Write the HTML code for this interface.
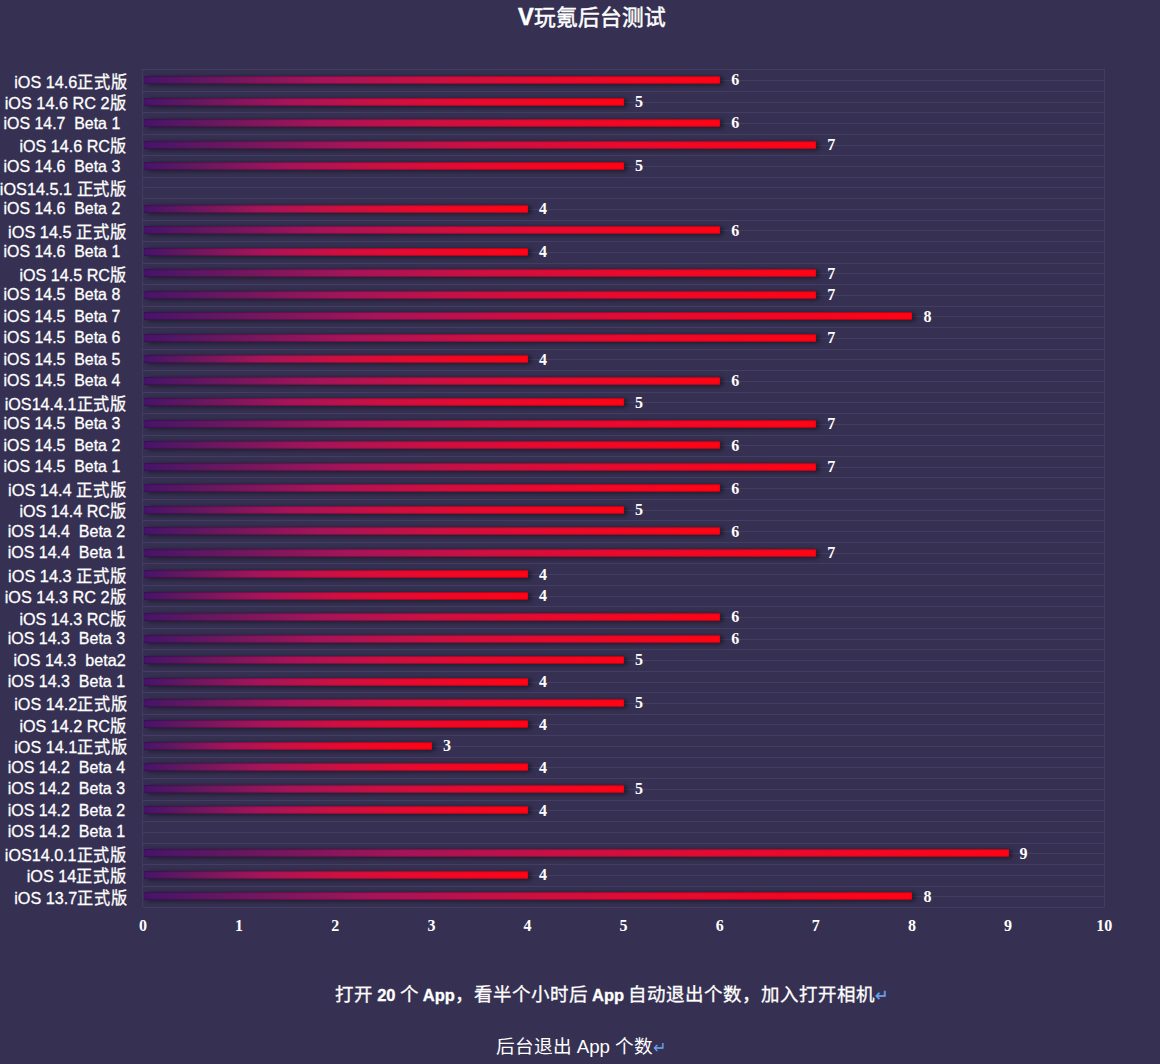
<!DOCTYPE html>
<html lang="zh-CN"><head><meta charset="utf-8"><style>
*{margin:0;padding:0;box-sizing:border-box}
html,body{width:1160px;height:1064px;overflow:hidden;background:#363152}
body{position:relative;font-family:"Liberation Sans",sans-serif;color:#fff}
.t{position:absolute;white-space:pre;line-height:1}
.g{position:absolute;left:142.5px;width:961.8px;height:1px;background:#433d61}
.lab{position:absolute;-webkit-text-stroke-width:0.3px;right:1034px;white-space:pre;font-size:16.5px;line-height:20px;height:20px}
.bar{position:absolute;left:143.0px;height:8px;box-shadow:3px 1px 5px rgba(0,0,0,.5),inset 0 1px 1px rgba(40,10,40,.35),inset 0 -1px 1px rgba(40,10,40,.35)}
.val{position:absolute;font-family:"Liberation Serif",serif;font-weight:bold;font-size:16px;line-height:20px;height:20px}
.ax{position:absolute;font-family:"Liberation Serif",serif;font-size:16px;font-weight:bold;line-height:20px;width:30px;text-align:center;top:916px}
</style></head><body>
<div class="t" id="ti" style="left:518px;top:4.5px;font-size:21.7px;font-weight:500;line-height:24px;-webkit-text-stroke-width:0.5px"><span style="font-size:23.5px;font-weight:bold">V</span>玩氪后台测试</div>

<div class="g" style="top:69.3px"></div>
<div class="g" style="top:80.0px"></div>
<div class="g" style="top:90.8px"></div>
<div class="g" style="top:101.5px"></div>
<div class="g" style="top:112.3px"></div>
<div class="g" style="top:123.0px"></div>
<div class="g" style="top:133.7px"></div>
<div class="g" style="top:144.5px"></div>
<div class="g" style="top:155.2px"></div>
<div class="g" style="top:166.0px"></div>
<div class="g" style="top:176.7px"></div>
<div class="g" style="top:187.4px"></div>
<div class="g" style="top:198.2px"></div>
<div class="g" style="top:208.9px"></div>
<div class="g" style="top:219.7px"></div>
<div class="g" style="top:230.4px"></div>
<div class="g" style="top:241.1px"></div>
<div class="g" style="top:251.9px"></div>
<div class="g" style="top:262.6px"></div>
<div class="g" style="top:273.4px"></div>
<div class="g" style="top:284.1px"></div>
<div class="g" style="top:294.8px"></div>
<div class="g" style="top:305.6px"></div>
<div class="g" style="top:316.3px"></div>
<div class="g" style="top:327.1px"></div>
<div class="g" style="top:337.8px"></div>
<div class="g" style="top:348.5px"></div>
<div class="g" style="top:359.3px"></div>
<div class="g" style="top:370.0px"></div>
<div class="g" style="top:380.8px"></div>
<div class="g" style="top:391.5px"></div>
<div class="g" style="top:402.2px"></div>
<div class="g" style="top:413.0px"></div>
<div class="g" style="top:423.7px"></div>
<div class="g" style="top:434.5px"></div>
<div class="g" style="top:445.2px"></div>
<div class="g" style="top:455.9px"></div>
<div class="g" style="top:466.7px"></div>
<div class="g" style="top:477.4px"></div>
<div class="g" style="top:488.2px"></div>
<div class="g" style="top:498.9px"></div>
<div class="g" style="top:509.6px"></div>
<div class="g" style="top:520.4px"></div>
<div class="g" style="top:531.1px"></div>
<div class="g" style="top:541.8px"></div>
<div class="g" style="top:552.6px"></div>
<div class="g" style="top:563.3px"></div>
<div class="g" style="top:574.1px"></div>
<div class="g" style="top:584.8px"></div>
<div class="g" style="top:595.5px"></div>
<div class="g" style="top:606.3px"></div>
<div class="g" style="top:617.0px"></div>
<div class="g" style="top:627.8px"></div>
<div class="g" style="top:638.5px"></div>
<div class="g" style="top:649.2px"></div>
<div class="g" style="top:660.0px"></div>
<div class="g" style="top:670.7px"></div>
<div class="g" style="top:681.5px"></div>
<div class="g" style="top:692.2px"></div>
<div class="g" style="top:702.9px"></div>
<div class="g" style="top:713.7px"></div>
<div class="g" style="top:724.4px"></div>
<div class="g" style="top:735.2px"></div>
<div class="g" style="top:745.9px"></div>
<div class="g" style="top:756.6px"></div>
<div class="g" style="top:767.4px"></div>
<div class="g" style="top:778.1px"></div>
<div class="g" style="top:788.9px"></div>
<div class="g" style="top:799.6px"></div>
<div class="g" style="top:810.3px"></div>
<div class="g" style="top:821.1px"></div>
<div class="g" style="top:831.8px"></div>
<div class="g" style="top:842.6px"></div>
<div class="g" style="top:853.3px"></div>
<div class="g" style="top:864.0px"></div>
<div class="g" style="top:874.8px"></div>
<div class="g" style="top:885.5px"></div>
<div class="g" style="top:896.3px"></div>
<div class="g" style="top:907.0px"></div>
<div style="position:absolute;left:142.0px;top:69.3px;width:1px;height:837.7px;background:#433d61"></div>
<div style="position:absolute;left:1103.8px;top:69.3px;width:1px;height:837.7px;background:#433d61"></div>
<div class="lab" style="top:71.5px;right:1033.22px;transform:scaleX(0.9807);transform-origin:100% 50%">iOS 14.6正式版</div>
<div class="bar" style="left:144.0px;top:76.0px;width:576.2px;background:linear-gradient(90deg,#46146a 0%,#621860 10%,#a5145a 30%,#cc1042 50%,#e80a2e 70%,#ff0414 100%)"></div>
<div class="val" style="top:70.4px;left:731.2px">6</div>
<div class="lab" style="top:93.0px;right:1033.21px;transform:scaleX(0.9861);transform-origin:100% 50%">iOS 14.6 RC 2版</div>
<div class="bar" style="left:144.0px;top:97.5px;width:480.1px;background:linear-gradient(90deg,#46146a 0%,#621860 10%,#a5145a 30%,#cc1042 50%,#e80a2e 70%,#ff0414 100%)"></div>
<div class="val" style="top:91.9px;left:635.1px">5</div>
<div class="lab" style="top:112.5px;right:1034.88px;transform:scaleX(0.9642);transform-origin:100% 50%">iOS 14.7  Beta 1 </div>
<div class="bar" style="left:144.0px;top:119.0px;width:576.2px;background:linear-gradient(90deg,#46146a 0%,#621860 10%,#a5145a 30%,#cc1042 50%,#e80a2e 70%,#ff0414 100%)"></div>
<div class="val" style="top:113.4px;left:731.2px">6</div>
<div class="lab" style="top:136.0px;right:1033.22px;transform:scaleX(0.9778);transform-origin:100% 50%">iOS 14.6 RC版</div>
<div class="bar" style="left:144.0px;top:140.5px;width:672.3px;background:linear-gradient(90deg,#46146a 0%,#621860 10%,#a5145a 30%,#cc1042 50%,#e80a2e 70%,#ff0414 100%)"></div>
<div class="val" style="top:134.9px;left:827.3px">7</div>
<div class="lab" style="top:155.5px;right:1034.88px;transform:scaleX(0.9642);transform-origin:100% 50%">iOS 14.6  Beta 3 </div>
<div class="bar" style="left:144.0px;top:162.0px;width:480.1px;background:linear-gradient(90deg,#46146a 0%,#621860 10%,#a5145a 30%,#cc1042 50%,#e80a2e 70%,#ff0414 100%)"></div>
<div class="val" style="top:156.4px;left:635.1px">5</div>
<div class="lab" style="top:178.9px;right:1033.21px;transform:scaleX(0.9858);transform-origin:100% 50%">iOS14.5.1 正式版</div>
<div class="lab" style="top:198.4px;right:1034.88px;transform:scaleX(0.9642);transform-origin:100% 50%">iOS 14.6  Beta 2 </div>
<div class="bar" style="left:144.0px;top:204.9px;width:384.0px;background:linear-gradient(90deg,#46146a 0%,#621860 10%,#a5145a 30%,#cc1042 50%,#e80a2e 70%,#ff0414 100%)"></div>
<div class="val" style="top:199.3px;left:539.0px">4</div>
<div class="lab" style="top:221.9px;right:1033.21px;transform:scaleX(0.9915);transform-origin:100% 50%">iOS 14.5 正式版</div>
<div class="bar" style="left:144.0px;top:226.4px;width:576.2px;background:linear-gradient(90deg,#46146a 0%,#621860 10%,#a5145a 30%,#cc1042 50%,#e80a2e 70%,#ff0414 100%)"></div>
<div class="val" style="top:220.8px;left:731.2px">6</div>
<div class="lab" style="top:241.4px;right:1034.88px;transform:scaleX(0.9642);transform-origin:100% 50%">iOS 14.6  Beta 1 </div>
<div class="bar" style="left:144.0px;top:247.9px;width:384.0px;background:linear-gradient(90deg,#46146a 0%,#621860 10%,#a5145a 30%,#cc1042 50%,#e80a2e 70%,#ff0414 100%)"></div>
<div class="val" style="top:242.3px;left:539.0px">4</div>
<div class="lab" style="top:264.9px;right:1033.22px;transform:scaleX(0.9778);transform-origin:100% 50%">iOS 14.5 RC版</div>
<div class="bar" style="left:144.0px;top:269.4px;width:672.3px;background:linear-gradient(90deg,#46146a 0%,#621860 10%,#a5145a 30%,#cc1042 50%,#e80a2e 70%,#ff0414 100%)"></div>
<div class="val" style="top:263.8px;left:827.3px">7</div>
<div class="lab" style="top:284.3px;right:1034.88px;transform:scaleX(0.9642);transform-origin:100% 50%">iOS 14.5  Beta 8 </div>
<div class="bar" style="left:144.0px;top:290.8px;width:672.3px;background:linear-gradient(90deg,#46146a 0%,#621860 10%,#a5145a 30%,#cc1042 50%,#e80a2e 70%,#ff0414 100%)"></div>
<div class="val" style="top:285.2px;left:827.3px">7</div>
<div class="lab" style="top:305.8px;right:1034.88px;transform:scaleX(0.9642);transform-origin:100% 50%">iOS 14.5  Beta 7 </div>
<div class="bar" style="left:144.0px;top:312.3px;width:768.4px;background:linear-gradient(90deg,#46146a 0%,#621860 10%,#a5145a 30%,#cc1042 50%,#e80a2e 70%,#ff0414 100%)"></div>
<div class="val" style="top:306.7px;left:923.4px">8</div>
<div class="lab" style="top:327.3px;right:1034.88px;transform:scaleX(0.9642);transform-origin:100% 50%">iOS 14.5  Beta 6 </div>
<div class="bar" style="left:144.0px;top:333.8px;width:672.3px;background:linear-gradient(90deg,#46146a 0%,#621860 10%,#a5145a 30%,#cc1042 50%,#e80a2e 70%,#ff0414 100%)"></div>
<div class="val" style="top:328.2px;left:827.3px">7</div>
<div class="lab" style="top:348.8px;right:1034.88px;transform:scaleX(0.9642);transform-origin:100% 50%">iOS 14.5  Beta 5 </div>
<div class="bar" style="left:144.0px;top:355.3px;width:384.0px;background:linear-gradient(90deg,#46146a 0%,#621860 10%,#a5145a 30%,#cc1042 50%,#e80a2e 70%,#ff0414 100%)"></div>
<div class="val" style="top:349.7px;left:539.0px">4</div>
<div class="lab" style="top:370.3px;right:1034.88px;transform:scaleX(0.9642);transform-origin:100% 50%">iOS 14.5  Beta 4 </div>
<div class="bar" style="left:144.0px;top:376.8px;width:576.2px;background:linear-gradient(90deg,#46146a 0%,#621860 10%,#a5145a 30%,#cc1042 50%,#e80a2e 70%,#ff0414 100%)"></div>
<div class="val" style="top:371.2px;left:731.2px">6</div>
<div class="lab" style="top:393.7px;right:1033.22px;transform:scaleX(0.9780);transform-origin:100% 50%">iOS14.4.1正式版</div>
<div class="bar" style="left:144.0px;top:398.2px;width:480.1px;background:linear-gradient(90deg,#46146a 0%,#621860 10%,#a5145a 30%,#cc1042 50%,#e80a2e 70%,#ff0414 100%)"></div>
<div class="val" style="top:392.6px;left:635.1px">5</div>
<div class="lab" style="top:413.2px;right:1034.88px;transform:scaleX(0.9642);transform-origin:100% 50%">iOS 14.5  Beta 3 </div>
<div class="bar" style="left:144.0px;top:419.7px;width:672.3px;background:linear-gradient(90deg,#46146a 0%,#621860 10%,#a5145a 30%,#cc1042 50%,#e80a2e 70%,#ff0414 100%)"></div>
<div class="val" style="top:414.1px;left:827.3px">7</div>
<div class="lab" style="top:434.7px;right:1034.88px;transform:scaleX(0.9642);transform-origin:100% 50%">iOS 14.5  Beta 2 </div>
<div class="bar" style="left:144.0px;top:441.2px;width:576.2px;background:linear-gradient(90deg,#46146a 0%,#621860 10%,#a5145a 30%,#cc1042 50%,#e80a2e 70%,#ff0414 100%)"></div>
<div class="val" style="top:435.6px;left:731.2px">6</div>
<div class="lab" style="top:456.2px;right:1034.88px;transform:scaleX(0.9642);transform-origin:100% 50%">iOS 14.5  Beta 1 </div>
<div class="bar" style="left:144.0px;top:462.7px;width:672.3px;background:linear-gradient(90deg,#46146a 0%,#621860 10%,#a5145a 30%,#cc1042 50%,#e80a2e 70%,#ff0414 100%)"></div>
<div class="val" style="top:457.1px;left:827.3px">7</div>
<div class="lab" style="top:479.7px;right:1033.21px;transform:scaleX(0.9915);transform-origin:100% 50%">iOS 14.4 正式版</div>
<div class="bar" style="left:144.0px;top:484.2px;width:576.2px;background:linear-gradient(90deg,#46146a 0%,#621860 10%,#a5145a 30%,#cc1042 50%,#e80a2e 70%,#ff0414 100%)"></div>
<div class="val" style="top:478.6px;left:731.2px">6</div>
<div class="lab" style="top:501.1px;right:1033.22px;transform:scaleX(0.9778);transform-origin:100% 50%">iOS 14.4 RC版</div>
<div class="bar" style="left:144.0px;top:505.6px;width:480.1px;background:linear-gradient(90deg,#46146a 0%,#621860 10%,#a5145a 30%,#cc1042 50%,#e80a2e 70%,#ff0414 100%)"></div>
<div class="val" style="top:500.0px;left:635.1px">5</div>
<div class="lab" style="top:520.6px;right:1034.80px;transform:scaleX(0.9700);transform-origin:100% 50%">iOS 14.4  Beta 2</div>
<div class="bar" style="left:144.0px;top:527.1px;width:576.2px;background:linear-gradient(90deg,#46146a 0%,#621860 10%,#a5145a 30%,#cc1042 50%,#e80a2e 70%,#ff0414 100%)"></div>
<div class="val" style="top:521.5px;left:731.2px">6</div>
<div class="lab" style="top:542.1px;right:1034.80px;transform:scaleX(0.9700);transform-origin:100% 50%">iOS 14.4  Beta 1</div>
<div class="bar" style="left:144.0px;top:548.6px;width:672.3px;background:linear-gradient(90deg,#46146a 0%,#621860 10%,#a5145a 30%,#cc1042 50%,#e80a2e 70%,#ff0414 100%)"></div>
<div class="val" style="top:543.0px;left:827.3px">7</div>
<div class="lab" style="top:565.6px;right:1033.21px;transform:scaleX(0.9915);transform-origin:100% 50%">iOS 14.3 正式版</div>
<div class="bar" style="left:144.0px;top:570.1px;width:384.0px;background:linear-gradient(90deg,#46146a 0%,#621860 10%,#a5145a 30%,#cc1042 50%,#e80a2e 70%,#ff0414 100%)"></div>
<div class="val" style="top:564.5px;left:539.0px">4</div>
<div class="lab" style="top:587.0px;right:1033.21px;transform:scaleX(0.9861);transform-origin:100% 50%">iOS 14.3 RC 2版</div>
<div class="bar" style="left:144.0px;top:591.5px;width:384.0px;background:linear-gradient(90deg,#46146a 0%,#621860 10%,#a5145a 30%,#cc1042 50%,#e80a2e 70%,#ff0414 100%)"></div>
<div class="val" style="top:585.9px;left:539.0px">4</div>
<div class="lab" style="top:608.5px;right:1033.22px;transform:scaleX(0.9778);transform-origin:100% 50%">iOS 14.3 RC版</div>
<div class="bar" style="left:144.0px;top:613.0px;width:576.2px;background:linear-gradient(90deg,#46146a 0%,#621860 10%,#a5145a 30%,#cc1042 50%,#e80a2e 70%,#ff0414 100%)"></div>
<div class="val" style="top:607.4px;left:731.2px">6</div>
<div class="lab" style="top:628.0px;right:1034.80px;transform:scaleX(0.9700);transform-origin:100% 50%">iOS 14.3  Beta 3</div>
<div class="bar" style="left:144.0px;top:634.5px;width:576.2px;background:linear-gradient(90deg,#46146a 0%,#621860 10%,#a5145a 30%,#cc1042 50%,#e80a2e 70%,#ff0414 100%)"></div>
<div class="val" style="top:628.9px;left:731.2px">6</div>
<div class="lab" style="top:649.5px;right:1034.80px;transform:scaleX(0.9781);transform-origin:100% 50%">iOS 14.3  beta2</div>
<div class="bar" style="left:144.0px;top:656.0px;width:480.1px;background:linear-gradient(90deg,#46146a 0%,#621860 10%,#a5145a 30%,#cc1042 50%,#e80a2e 70%,#ff0414 100%)"></div>
<div class="val" style="top:650.4px;left:635.1px">5</div>
<div class="lab" style="top:671.0px;right:1034.80px;transform:scaleX(0.9700);transform-origin:100% 50%">iOS 14.3  Beta 1</div>
<div class="bar" style="left:144.0px;top:677.5px;width:384.0px;background:linear-gradient(90deg,#46146a 0%,#621860 10%,#a5145a 30%,#cc1042 50%,#e80a2e 70%,#ff0414 100%)"></div>
<div class="val" style="top:671.9px;left:539.0px">4</div>
<div class="lab" style="top:694.4px;right:1033.22px;transform:scaleX(0.9807);transform-origin:100% 50%">iOS 14.2正式版</div>
<div class="bar" style="left:144.0px;top:698.9px;width:480.1px;background:linear-gradient(90deg,#46146a 0%,#621860 10%,#a5145a 30%,#cc1042 50%,#e80a2e 70%,#ff0414 100%)"></div>
<div class="val" style="top:693.3px;left:635.1px">5</div>
<div class="lab" style="top:715.9px;right:1033.22px;transform:scaleX(0.9778);transform-origin:100% 50%">iOS 14.2 RC版</div>
<div class="bar" style="left:144.0px;top:720.4px;width:384.0px;background:linear-gradient(90deg,#46146a 0%,#621860 10%,#a5145a 30%,#cc1042 50%,#e80a2e 70%,#ff0414 100%)"></div>
<div class="val" style="top:714.8px;left:539.0px">4</div>
<div class="lab" style="top:737.4px;right:1033.22px;transform:scaleX(0.9807);transform-origin:100% 50%">iOS 14.1正式版</div>
<div class="bar" style="left:144.0px;top:741.9px;width:287.9px;background:linear-gradient(90deg,#46146a 0%,#621860 10%,#a5145a 30%,#cc1042 50%,#e80a2e 70%,#ff0414 100%)"></div>
<div class="val" style="top:736.3px;left:442.9px">3</div>
<div class="lab" style="top:756.9px;right:1034.80px;transform:scaleX(0.9700);transform-origin:100% 50%">iOS 14.2  Beta 4</div>
<div class="bar" style="left:144.0px;top:763.4px;width:384.0px;background:linear-gradient(90deg,#46146a 0%,#621860 10%,#a5145a 30%,#cc1042 50%,#e80a2e 70%,#ff0414 100%)"></div>
<div class="val" style="top:757.8px;left:539.0px">4</div>
<div class="lab" style="top:778.4px;right:1034.80px;transform:scaleX(0.9700);transform-origin:100% 50%">iOS 14.2  Beta 3</div>
<div class="bar" style="left:144.0px;top:784.9px;width:480.1px;background:linear-gradient(90deg,#46146a 0%,#621860 10%,#a5145a 30%,#cc1042 50%,#e80a2e 70%,#ff0414 100%)"></div>
<div class="val" style="top:779.3px;left:635.1px">5</div>
<div class="lab" style="top:799.8px;right:1034.80px;transform:scaleX(0.9700);transform-origin:100% 50%">iOS 14.2  Beta 2</div>
<div class="bar" style="left:144.0px;top:806.3px;width:384.0px;background:linear-gradient(90deg,#46146a 0%,#621860 10%,#a5145a 30%,#cc1042 50%,#e80a2e 70%,#ff0414 100%)"></div>
<div class="val" style="top:800.7px;left:539.0px">4</div>
<div class="lab" style="top:821.3px;right:1034.80px;transform:scaleX(0.9700);transform-origin:100% 50%">iOS 14.2  Beta 1</div>
<div class="lab" style="top:844.8px;right:1033.22px;transform:scaleX(0.9772);transform-origin:100% 50%">iOS14.0.1正式版</div>
<div class="bar" style="left:144.0px;top:849.3px;width:864.5px;background:linear-gradient(90deg,#46146a 0%,#621860 10%,#a5145a 30%,#cc1042 50%,#e80a2e 70%,#ff0414 100%)"></div>
<div class="val" style="top:843.7px;left:1019.5px">9</div>
<div class="lab" style="top:866.3px;right:1033.22px;transform:scaleX(0.9830);transform-origin:100% 50%">iOS 14正式版</div>
<div class="bar" style="left:144.0px;top:870.8px;width:384.0px;background:linear-gradient(90deg,#46146a 0%,#621860 10%,#a5145a 30%,#cc1042 50%,#e80a2e 70%,#ff0414 100%)"></div>
<div class="val" style="top:865.2px;left:539.0px">4</div>
<div class="lab" style="top:887.8px;right:1033.22px;transform:scaleX(0.9807);transform-origin:100% 50%">iOS 13.7正式版</div>
<div class="bar" style="left:144.0px;top:892.3px;width:768.4px;background:linear-gradient(90deg,#46146a 0%,#621860 10%,#a5145a 30%,#cc1042 50%,#e80a2e 70%,#ff0414 100%)"></div>
<div class="val" style="top:886.7px;left:923.4px">8</div>
<div class="ax" style="left:128.0px">0</div>
<div class="ax" style="left:224.1px">1</div>
<div class="ax" style="left:320.2px">2</div>
<div class="ax" style="left:416.4px">3</div>
<div class="ax" style="left:512.5px">4</div>
<div class="ax" style="left:608.6px">5</div>
<div class="ax" style="left:704.7px">6</div>
<div class="ax" style="left:800.8px">7</div>
<div class="ax" style="left:897.0px">8</div>
<div class="ax" style="left:993.1px">9</div>
<div class="ax" style="left:1089.2px">10</div>
<div class="t" id="l1" style="left:335px;top:986px;font-size:18.5px;font-weight:500;word-spacing:-1px;-webkit-text-stroke-width:0.3px">打开 <b style="font-size:16.5px">20</b> 个 <b style="font-size:16.5px">App</b>，看半个小时后 <b style="font-size:16.5px">App</b> 自动退出个数，加入打开相机<span style="color:#6aa4ec;font-weight:400;font-size:16px">↵</span></div>
<div class="t" id="l2" style="left:495.5px;top:1038px;font-size:18.7px">后台退出 App 个数<span style="color:#6aa4ec;font-size:16px">↵</span></div>
</body></html>
